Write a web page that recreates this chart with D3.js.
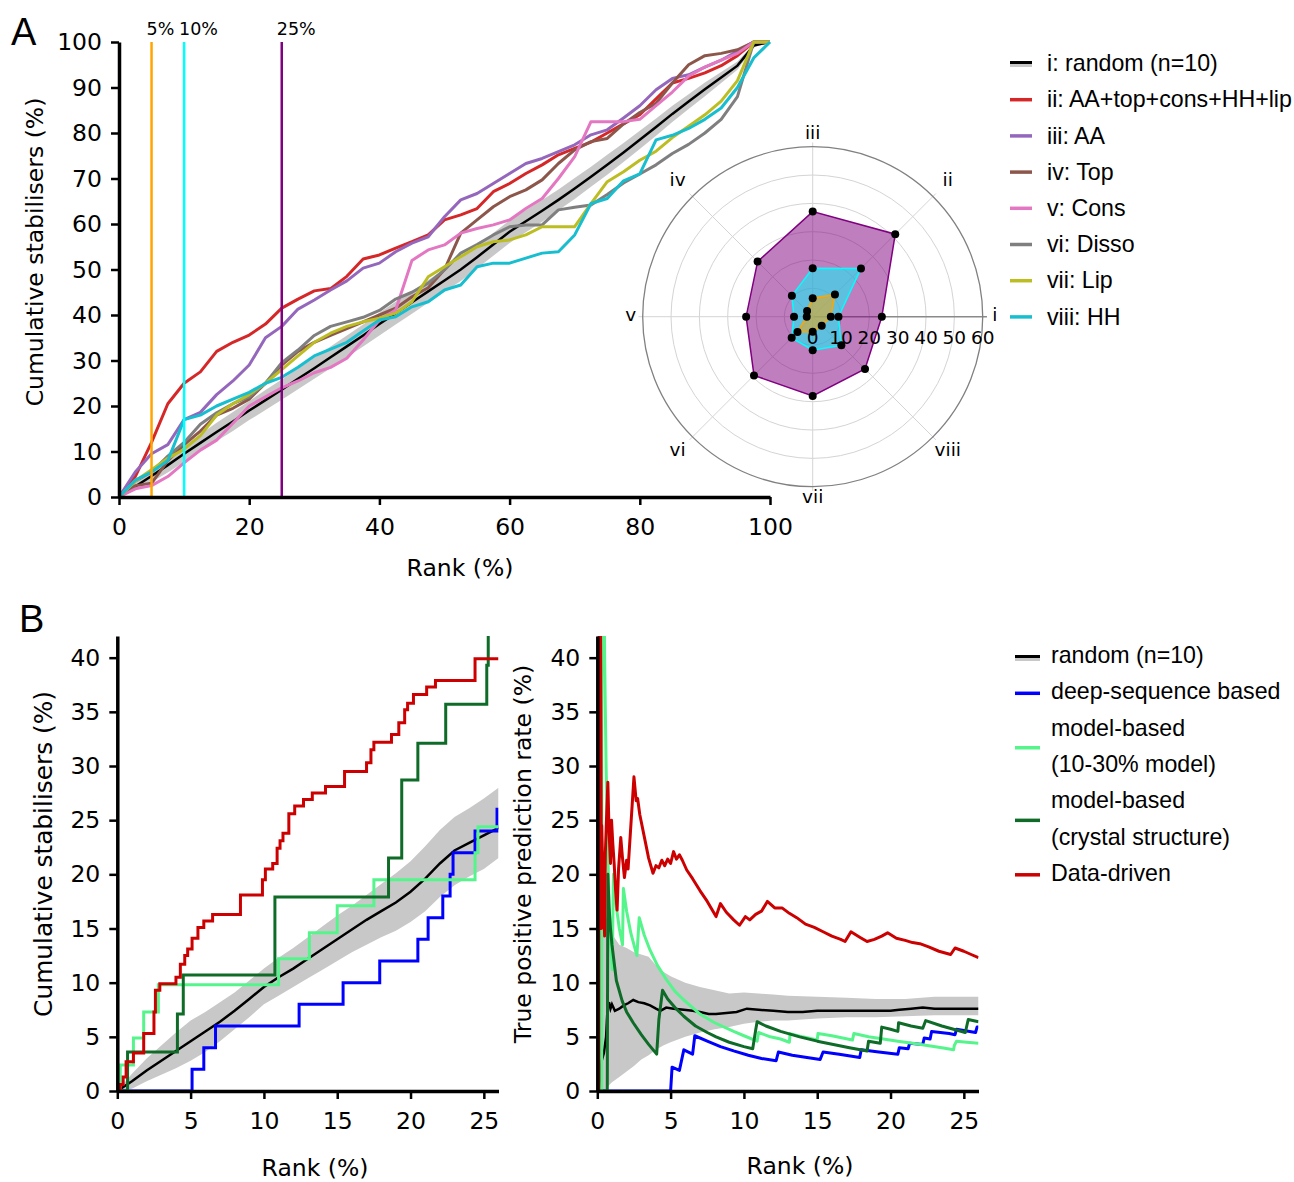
<!DOCTYPE html>
<html>
<head>
<meta charset="utf-8">
<script src="https://cdn.jsdelivr.net/npm/d3@7"></script>
<style>
  body { margin: 0; background: #fff; }
</style>
</head>
<body>
<svg id="fig" width="1294" height="1182" font-family="DejaVu Sans, sans-serif"></svg>
<script>
// ---------- panel A: cumulative stabilisers, every 2.5 % of rank ----------
const RANKS_A = [0,2.5,5,7.5,10,12.5,15,17.5,20,22.5,25,27.5,30,32.5,35,37.5,40,42.5,45,47.5,50,
                 52.5,55,57.5,60,62.5,65,67.5,70,72.5,75,77.5,80,82.5,85,87.5,90,92.5,95,97.5,100];

const RANDOM_A    = [0,2.3,4.6,7,9.5,11.9,14.3,16.6,19,21.3,23.6,26,28.3,30.7,33.1,35.5,38,40.4,42.8,45.2,47.6,
                     50,52.7,55.5,58.3,60.6,62.9,65.3,67.8,70.4,73,75.7,78.5,81.3,84.2,86.9,89.6,92.2,94.8,99.2,100];
const RANDOM_A_LO = [0,1.5,3.3,5.4,7.7,10.0,12.3,14.5,16.9,19.1,21.4,23.7,26.0,28.3,30.7,33.1,35.5,37.9,40.3,42.7,45.1,
                     47.5,50.2,53.0,55.8,58.2,60.5,63.0,65.5,68.2,70.8,73.6,76.5,79.4,82.4,85.3,88.1,91.0,93.9,98.8,100];
const RANDOM_A_HI = [0,3.1,5.9,8.6,11.3,13.8,16.3,18.7,21.1,23.5,25.8,28.3,30.6,33.1,35.5,37.9,40.5,42.9,45.3,47.7,50.1,
                     52.5,55.2,58.0,60.8,63.0,65.3,67.6,70.1,72.6,75.2,77.8,80.5,83.2,86.0,88.5,91.1,93.4,95.7,99.6,100];

const COMBINED = [0,4.5,12,20.5,25,27.5,32,34,35.6,38,41.5,43.5,45.3,45.8,48.5,52.3,53.2,54.7,56.1,57.6,60.9,
                  62,63.4,67.1,68.9,71.1,73,75.2,76.6,78,80,82,84,87.5,91,92,93.2,94.8,97,100,100];
const AA    = [0,5.5,9.5,11.5,17,18.6,22.5,25.5,29,35,37.5,41.3,43.3,45.5,47.5,50.3,51.4,53.9,55.8,57.2,61.6,
               65.3,66.7,68.9,71.1,73.3,74.4,75.9,77.4,79.6,80.7,83.3,86,89.5,92,92.8,94.5,96,98,100,100];
const TOP   = [0,2.5,3,8,11.5,14.5,18,19.5,21.5,25,29,32,34,35.5,37,38.5,40,41.5,44,46,50,
               58,60.9,63.8,66,67.5,69.7,73.3,76.3,78.1,78.8,82,84.5,86.5,91,95,97,97.5,98.3,100,100];
const CONS  = [0,1.8,2.5,4.5,7.5,10.3,12.5,16.2,20,22,24,25.5,27.3,28.5,30.5,34.5,38.9,41.1,52,54.3,55.4,
               58,59,59.8,60.9,63.4,65.6,70,74.8,82.5,82.5,82.5,83,86,89,92.5,94.5,96,97.5,100,100];
const DISSO = [0,3.5,5.5,9,12,16,18.5,20.5,22,25,29.5,32.3,35.5,37.5,38.5,39.5,41,43.5,45,47,49.9,
               53.6,55.5,57.6,59.4,59.8,59.8,63.1,63.7,64.2,66.5,69,71,73,75.5,77.5,80,83,88,100,100];
const LIP   = [0,3.5,6,8.5,10.5,13.5,18,20.5,22.5,25,28,31,34,36,37.5,38.5,39.3,40.4,42.9,48.4,50.6,
               52.8,55,56.1,56.5,57.6,59.4,59.4,59.4,64.5,69.3,71.5,74,76,79,81.5,84,87,91.5,100,100];
const HH    = [0,3.7,5.5,8,17,18,20,21.5,23,25,26.3,28.5,31,32.5,34,36.5,38.9,39.6,41.8,42.9,45.5,
               46.6,50.6,51.4,51.4,52.5,53.6,53.9,57.6,64.5,65.6,69.5,71,78.5,79.5,81,83,85.5,90,96.5,100];

const LEGEND_A = ['i: random (n=10)','ii: AA+top+cons+HH+lip','iii: AA','iv: Top','v: Cons','vi: Disso','vii: Lip','viii: HH'];
const COLORS_A = ['#000000','#d62728','#9467bd','#8c564b','#e377c2','#7f7f7f','#bcbd22','#17becf'];
const SERIES_A = [COMBINED, AA, TOP, CONS, DISSO, LIP, HH];

const THRESHOLDS = [5, 10, 25];
const THRESH_LABELS = ['5%', '10%', '25%'];
const THRESH_COLORS = ['#ffa500', '#00ffff', '#800080'];

// radar: share of stabilisers found at the 5 / 10 / 25 % cut-offs
const RADAR_AXES = ['i','ii','iii','iv','v','vi','vii','viii'];
const RADAR_TICKS = [0,10,20,30,40,50,60];
const RADAR_25 = [24.4, 41.2, 37.1, 27.5, 23.5, 29.3, 28.0, 26.1];
const RADAR_10 = [9.1, 24.1, 17.1, 10.4, 6.6, 10.5, 11.8, 14.3];
const RADAR_5  = [6.4, 11.1, 6.5, 2.8, 2.1, 7.6, 5.3, 4.5];

// ---------- panel B ----------
const RANKS_B = [0,1,2,3,4,5,6,7,8,9,10,11,12,13,14,15,16,17,18,19,20,21,22,23,24,25,26];
const RANDOM_B    = [0,0.9,1.9,2.8,3.7,4.6,5.5,6.4,7.4,8.5,9.6,10.5,11.3,12.2,13.1,14.0,14.9,15.8,16.6,17.4,18.4,19.6,21.0,22.2,22.9,23.6,24.3];
const RANDOM_B_LO = [0,0.2,0.9,1.5,2.1,2.8,3.6,4.6,5.7,6.8,8.0,8.8,9.6,10.4,11.2,12.0,12.8,13.5,14.2,14.8,15.6,16.6,17.9,19.0,19.8,20.5,21.5];
const RANDOM_B_HI = [0,1.6,3.0,4.2,5.4,6.5,7.3,8.2,9.1,10.2,11.3,12.3,13.2,14.2,15.2,16.2,17.1,18.1,19.1,20.1,21.2,22.6,24.1,25.3,26.1,27.0,28.0];

// cumulative stabilisers, [rank, %] at each step
const DEEPSEQ_CUM = [[0,0],[5.1,2],[5.9,4],[6.7,6],[12.4,8],[15.4,10],[17.9,12],[20.5,14],[21.2,16],[22.2,18],
                     [22.7,20],[22.9,22],[24.4,24],[25.9,26],[26,26]];
const MODEL_CUM   = [[0,0],[0.2,2.4],[1.1,4.9],[1.8,7.3],[2.8,9.8],[11.0,12.2],[13.1,14.6],[15.0,17.1],[17.5,19.5],
                     [24.4,22.0],[24.6,24.4],[26,24.4]];
const CRYSTAL_CUM = [[0,0],[0.7,3.6],[4.1,7.1],[4.5,10.7],[10.75,17.9],[18.5,21.5],[19.4,28.7],[20.5,32.1],
                     [22.4,35.7],[25.2,39.3],[25.3,42.9],[26,42.9]];
const DATA_CUM    = [[0,0],[0.2,0.6],[0.4,1.3],[0.6,2.7],[1.1,3.5],[1.8,5.3],[2.5,7.3],[2.6,9.3],[2.9,9.9],[4.0,10.5],
                     [4.3,11.7],[4.6,12.5],[4.8,13.1],[5.1,14.1],[5.5,15.1],[5.9,15.7],[6.5,16.3],[8.4,18.1],[9.9,19.5],
                     [10.1,20.5],[10.6,21.0],[10.9,22.4],[11.1,23.1],[11.3,23.8],[11.7,25.6],[12.1,26.3],[12.7,26.9],
                     [13.3,27.5],[14.2,28.1],[15.5,29.5],[17.0,30.3],[17.3,31.5],[17.5,32.2],[18.7,32.9],[19.2,34.0],
                     [19.6,35.2],[19.8,35.8],[20.2,36.6],[21.1,37.3],[21.7,37.9],[24.4,39.9],[26,39.9]];

// true positive prediction rate, [rank, %]
const RANDOM_TPR = [[0,0],[0.1,0],[0.3,2.8],[0.45,3.5],[0.6,5],[0.7,7.7],[0.8,8.2],[0.9,7.6],[1.0,8.0],[1.2,7.4],
                    [1.5,7.6],[1.8,7.9],[2.1,8.1],[2.45,8.4],[2.8,8.2],[3.2,8.1],[3.6,7.9],[4.0,7.6],[4.3,7.4],[4.7,7.7],
                    [5.2,7.6],[5.9,7.5],[6.5,7.4],[7.0,7.3],[7.6,7.1],[8.1,7.1],[8.8,7.2],[9.5,7.3],[10.2,7.6],[11.0,7.5],
                    [12.0,7.4],[13.0,7.3],[14.0,7.3],[15.0,7.4],[17.0,7.4],[19.0,7.4],[20.0,7.4],[20.6,7.5],[21.4,7.6],
                    [22.2,7.7],[23.0,7.6],[24.0,7.6],[26,7.6]];
const RANDOM_TPR_BAND = [[0.1,0,0],[0.2,0,14],[0.35,0,18],[0.5,0,17],[0.7,0.4,15.5],[1.0,0.8,14.5],[1.5,1.3,13.5],
                         [2.0,1.8,13.2],[2.5,2.3,12.8],[3.0,2.9,12.6],[3.5,3.3,12.4],[4.0,3.8,11.6],[4.5,4.2,11.0],
                         [5.0,4.5,10.6],[6.0,5.0,10.0],[7.0,5.4,9.6],[8.0,5.7,9.3],[9.0,5.9,9.0],[10.0,6.2,9.1],
                         [11.0,6.4,9.0],[12.0,6.5,8.9],[13.0,6.5,8.8],[15.0,6.7,8.7],[17.0,6.8,8.6],[19.0,6.8,8.5],
                         [21.0,6.9,8.5],[23.0,7.0,8.7],[26.0,7.0,8.7]];
const DEEPSEQ_TPR = [[0,0],[5.0,0],[5.1,2.2],[5.6,1.9],[5.9,3.8],[6.5,3.4],[6.65,5.1],[7.5,4.6],[8.4,4.1],[9.3,3.7],
                     [10.3,3.3],[11.2,3.0],[12.2,2.8],[12.35,3.6],[13.3,3.3],[14.3,3.1],[15.2,2.9],[15.4,3.6],[16.5,3.4],
                     [17.9,3.1],[18.0,3.8],[19.2,3.6],[20.5,3.4],[20.6,4.0],[21.2,3.9],[21.3,4.4],[22.2,4.3],[22.3,4.9],
                     [22.7,4.8],[22.8,5.5],[24.0,5.3],[24.4,5.2],[24.5,5.7],[25.8,5.4],[25.9,5.9],[26,5.9]];
const MODEL_TPR   = [[0,0],[0.3,0],[0.32,100],[0.4,60],[0.5,40],[0.6,30],[0.7,23],[0.8,17.5],[0.9,14],[1.02,11.2],
                     [1.1,20],[1.3,17],[1.5,15],[1.72,13.5],[1.78,18.7],[2.0,16.6],[2.3,14.5],[2.7,12.5],[2.86,16],
                     [3.2,14.4],[3.6,13],[4.1,11.6],[4.7,10.3],[5.3,9.2],[5.9,8.4],[6.5,7.7],[7.0,7.1],[8.0,6.3],
                     [9.3,5.5],[10.0,5.1],[10.9,4.6],[11.0,5.4],[11.8,5.0],[12.5,4.8],[13.1,4.5],[13.15,5.3],[14.0,5.0],
                     [15.0,4.7],[15.05,5.3],[16.0,5.1],[17.4,4.7],[17.5,5.3],[18.5,5.0],[19.5,4.8],[20.5,4.6],[21.5,4.4],
                     [22.5,4.2],[23.5,4.0],[24.3,3.8],[24.35,4.2],[24.5,4.6],[25.2,4.5],[26,4.4]];
const CRYSTAL_TPR = [[0,0],[0.68,0],[0.72,20],[0.8,17],[0.9,15],[1.0,13.5],[1.3,10.2],[1.7,8.3],[2.0,7.3],[2.45,6.3],
                     [3.0,5.2],[3.5,4.3],[4.05,3.4],[4.2,6.6],[4.45,9.3],[4.8,8.5],[5.3,7.7],[5.9,6.9],[6.7,6.0],
                     [7.5,5.4],[8.1,5.0],[9.0,4.5],[10.0,4.1],[10.6,3.9],[10.8,5.6],[10.9,6.4],[11.5,6.0],[12.5,5.5],
                     [13.8,5.0],[15.0,4.6],[16.1,4.3],[17.2,4.0],[18.4,3.7],[18.5,4.6],[19.3,4.4],[19.4,5.9],[20.0,5.7],
                     [20.5,5.5],[20.55,6.3],[21.4,6.0],[22.2,5.8],[22.4,6.5],[23.5,6.0],[24.3,5.7],[25.1,5.4],[25.3,6.6],[26,6.4]];
const DATA_TPR    = [[0,0],[0.1,0],[0.12,100],[0.2,50],[0.25,33],[0.28,15],[0.3,24.5],[0.38,20],[0.45,16.5],[0.5,14.3],
                     [0.55,22],[0.65,26],[0.72,28.5],[0.8,24],[0.9,21],[0.97,25],[1.05,23],[1.15,21],[1.25,18.5],
                     [1.35,16.7],[1.45,20.5],[1.6,23.4],[1.72,21.5],[1.85,19.7],[2.0,21.3],[2.1,20.5],[2.5,29.0],
                     [2.65,26.8],[2.75,27],[2.9,25.5],[3.2,23.5],[3.5,21.5],[3.8,20.1],[4.0,20.8],[4.2,20.6],[4.4,21.3],
                     [4.6,20.8],[4.8,21.4],[5.0,21],[5.2,22.1],[5.4,21.4],[5.6,21.8],[5.8,21.3],[6.1,20.4],[6.5,19.6],
                     [7.0,18.5],[7.5,17.5],[8.1,16.1],[8.4,17.3],[8.8,16.5],[9.3,15.8],[9.7,15.3],[10.1,16.1],[10.4,15.8],
                     [10.8,16.3],[11.2,16.6],[11.6,17.5],[12.1,16.9],[12.6,16.9],[13.1,16.4],[13.6,16],[14.2,15.4],
                     [14.8,15.1],[15.4,14.7],[16.0,14.3],[16.6,14],[16.9,13.8],[17.3,14.7],[17.9,14.2],[18.4,13.8],
                     [18.9,14],[19.4,14.3],[19.8,14.6],[20.4,14.1],[21.0,13.9],[21.5,13.7],[22.0,13.6],[22.6,13.3],
                     [23.3,12.9],[24.1,12.6],[24.4,13.2],[25.0,12.9],[25.5,12.6],[26,12.3]];

const LEGEND_B = [['random (n=10)'],['deep-sequence based'],['model-based','(10-30% model)'],
                  ['model-based','(crystal structure)'],['Data-driven']];
const COLORS_B = ['#000000','#0000ff','#55f58c','#0f6b28','#cc0000'];
const BAND_GREY = '#c8c8c8';

const TICK_FONT = 23.5;
const LABEL_FONT = 23.5;
const LEGEND_FONT = 23.2;
const ARIAL = '"Liberation Sans", Arial, sans-serif';

const svg = d3.select('#fig');
svg.append('rect').attr('width', 1294).attr('height', 1182).attr('fill', '#fff');

function styleAxis(g) {
    g.attr('font-family', 'DejaVu Sans, sans-serif').attr('font-size', TICK_FONT);
    g.selectAll('.domain').attr('stroke', '#000').attr('stroke-width', 3.5);
    g.selectAll('.tick line').attr('stroke', '#000').attr('stroke-width', 2.5);
    g.selectAll('.tick text').attr('fill', '#000');
}

function drawAxes(x, y, xTicks, yTicks) {
    const gx = svg.append('g').attr('transform', `translate(0,${y.range()[0]})`)
        .call(d3.axisBottom(x).tickValues(xTicks).tickSize(8).tickSizeOuter(0).tickPadding(13));
    styleAxis(gx);
    const gy = svg.append('g').attr('transform', `translate(${x.range()[0]},0)`)
        .call(d3.axisLeft(y).tickValues(yTicks).tickSize(8).tickSizeOuter(0).tickPadding(9));
    styleAxis(gy);
}

function axisLabel(text, x, y, rotate, size) {
    svg.append('text')
        .attr('transform', `translate(${x},${y})` + (rotate ? ' rotate(-90)' : ''))
        .attr('text-anchor', 'middle').attr('dy', '0.35em')
        .attr('font-size', size || LABEL_FONT).text(text);
}

function panelLetter(text, x, y) {
    svg.append('text').attr('x', x).attr('y', y)
        .attr('font-family', ARIAL).attr('font-size', 38).text(text);
}

// ================= panel A =================
const xA = d3.scaleLinear().domain([0, 100]).range([119, 770]);
const yA = d3.scaleLinear().domain([0, 100]).range([497, 42]);

const bandA = d3.area().x((d, i) => xA(RANKS_A[i])).y0(d => yA(d[0])).y1(d => yA(d[1]));
svg.append('path').datum(RANDOM_A_LO.map((v, i) => [v, RANDOM_A_HI[i]]))
    .attr('d', bandA).attr('fill', BAND_GREY);

const lineA = d3.line().x((d, i) => xA(RANKS_A[i])).y(d => yA(d));
svg.append('path').datum(RANDOM_A).attr('d', lineA)
    .attr('fill', 'none').attr('stroke', '#000').attr('stroke-width', 2.5);

SERIES_A.forEach((s, k) => {
    svg.append('path').datum(s).attr('d', lineA)
        .attr('fill', 'none').attr('stroke', COLORS_A[k + 1]).attr('stroke-width', 3)
        .attr('stroke-linejoin', 'round');
});

THRESHOLDS.forEach((t, k) => {
    svg.append('line').attr('x1', xA(t)).attr('x2', xA(t)).attr('y1', yA(100)).attr('y2', yA(0))
        .attr('stroke', THRESH_COLORS[k]).attr('stroke-width', 2.5);
    svg.append('text').attr('x', xA(t) - 5).attr('y', 35)
        .attr('font-size', 17.5).text(THRESH_LABELS[k]);
});

drawAxes(xA, yA, [0, 20, 40, 60, 80, 100], d3.range(0, 101, 10));
axisLabel('Cumulative stabilisers (%)', 35, 252, true);
axisLabel('Rank (%)', 460, 568, false);
panelLetter('A', 11, 45);

// radar inset
const rc = { x: 812.7, y: 316.7 };
const rR = d3.scaleLinear().domain([0, 60]).range([0, 170]);
const ang = k => k * Math.PI / 4;
const polar = (k, v) => [rc.x + rR(v) * Math.cos(ang(k)), rc.y - rR(v) * Math.sin(ang(k))];

const radar = svg.append('g');
radar.append('circle').attr('cx', rc.x).attr('cy', rc.y).attr('r', rR(60)).attr('fill', '#fff');
RADAR_TICKS.slice(1, -1).forEach(t => {
    radar.append('circle').attr('cx', rc.x).attr('cy', rc.y).attr('r', rR(t))
        .attr('fill', 'none').attr('stroke', '#d4d4d4').attr('stroke-width', 1);
});
RADAR_AXES.forEach((a, k) => {
    const [x2, y2] = polar(k, 61.5);
    radar.append('line').attr('x1', rc.x).attr('y1', rc.y).attr('x2', x2).attr('y2', y2)
        .attr('stroke', k === 0 ? '#8a8a8a' : '#d4d4d4').attr('stroke-width', k === 0 ? 1.4 : 1);
    const lr = 182 + 9 * Math.abs(Math.sin(2 * ang(k)));
    radar.append('text')
        .attr('x', rc.x + lr * Math.cos(ang(k))).attr('y', rc.y - lr * Math.sin(ang(k)) - 2)
        .attr('text-anchor', 'middle').attr('dy', '0.35em').attr('font-size', 18.5).text(a);
});
radar.append('circle').attr('cx', rc.x).attr('cy', rc.y).attr('r', rR(60))
    .attr('fill', 'none').attr('stroke', '#808080').attr('stroke-width', 1.3);

const radarLine = d3.line().x((d, k) => polar(k, d)[0]).y((d, k) => polar(k, d)[1]).curve(d3.curveLinearClosed);
[[RADAR_25, '#800080'], [RADAR_10, '#00ffff'], [RADAR_5, '#ffa500']].forEach(([vals, c]) => {
    radar.append('path').datum(vals).attr('d', radarLine)
        .attr('fill', c).attr('fill-opacity', 0.5).attr('stroke', c).attr('stroke-width', 1.5);
});
[RADAR_25, RADAR_10, RADAR_5].forEach(vals => {
    vals.forEach((v, k) => {
        const [px, py] = polar(k, v);
        radar.append('circle').attr('cx', px).attr('cy', py).attr('r', 4).attr('fill', '#000');
    });
});
RADAR_TICKS.forEach(t => {
    radar.append('text').attr('x', rc.x + rR(t)).attr('y', rc.y + 21)
        .attr('text-anchor', 'middle').attr('dy', '0.35em').attr('font-size', 18.5).text(t);
});

// legend A
const legA = svg.append('g').attr('font-family', ARIAL).attr('font-size', LEGEND_FONT);
LEGEND_A.forEach((lab, i) => {
    const cy = 63 + i * 36.2;
    if (i === 0) {
        legA.append('rect').attr('x', 1010).attr('y', cy - 1).attr('width', 22).attr('height', 5).attr('fill', BAND_GREY);
        legA.append('line').attr('x1', 1010).attr('x2', 1032).attr('y1', cy - 0.5).attr('y2', cy - 0.5)
            .attr('stroke', '#000').attr('stroke-width', 3);
    } else {
        legA.append('line').attr('x1', 1010).attr('x2', 1032).attr('y1', cy + 0.5).attr('y2', cy + 0.5)
            .attr('stroke', COLORS_A[i]).attr('stroke-width', 3.5);
    }
    legA.append('text').attr('x', 1047).attr('y', cy).attr('dy', '0.35em').text(lab);
});

// ================= panel B =================
const yB = d3.scaleLinear().domain([0, 42]).range([1091, 636]);
const xBL = d3.scaleLinear().domain([0, 26]).range([117.3, 498.5]);
const xBR = d3.scaleLinear().domain([0, 26]).range([597.3, 978.5]);

function clipFor(id, x) {
    svg.append('clipPath').attr('id', id).append('rect')
        .attr('x', x.range()[0]).attr('y', yB.range()[1])
        .attr('width', x.range()[1] - x.range()[0]).attr('height', yB.range()[0] - yB.range()[1] + 2);
    return svg.append('g').attr('clip-path', `url(#${id})`);
}

// left: cumulative stabilisers
const gL = clipFor('clipL', xBL);
gL.append('path').datum(RANDOM_B_LO.map((v, i) => [RANKS_B[i], v, RANDOM_B_HI[i]]))
    .attr('d', d3.area().x(d => xBL(d[0])).y0(d => yB(d[1])).y1(d => yB(d[2])))
    .attr('fill', BAND_GREY);
gL.append('path').datum(RANDOM_B.map((v, i) => [RANKS_B[i], v]))
    .attr('d', d3.line().x(d => xBL(d[0])).y(d => yB(d[1])))
    .attr('fill', 'none').attr('stroke', '#000').attr('stroke-width', 2.5);
const stepB = d3.line().x(d => xBL(d[0])).y(d => yB(d[1])).curve(d3.curveStepAfter);
[DEEPSEQ_CUM, MODEL_CUM, CRYSTAL_CUM, DATA_CUM].forEach((s, k) => {
    gL.append('path').datum(s).attr('d', stepB)
        .attr('fill', 'none').attr('stroke', COLORS_B[k + 1]).attr('stroke-width', 3);
});
drawAxes(xBL, yB, [0, 5, 10, 15, 20, 25], d3.range(0, 41, 5));
axisLabel('Cumulative stabilisers (%)', 43, 854, true, 24.8);
axisLabel('Rank (%)', 315, 1168, false);
panelLetter('B', 19, 632);

// right: true positive prediction rate
const gR = clipFor('clipR', xBR);
gR.append('path').datum(RANDOM_TPR_BAND)
    .attr('d', d3.area().x(d => xBR(d[0])).y0(d => yB(d[1])).y1(d => yB(d[2])))
    .attr('fill', BAND_GREY);
const lineR = d3.line().x(d => xBR(d[0])).y(d => yB(d[1]));
gR.append('path').datum(RANDOM_TPR).attr('d', lineR)
    .attr('fill', 'none').attr('stroke', '#000').attr('stroke-width', 2.5);
[DEEPSEQ_TPR, MODEL_TPR, CRYSTAL_TPR, DATA_TPR].forEach((s, k) => {
    gR.append('path').datum(s).attr('d', lineR)
        .attr('fill', 'none').attr('stroke', COLORS_B[k + 1]).attr('stroke-width', 3)
        .attr('stroke-linejoin', 'round');
});
drawAxes(xBR, yB, [0, 5, 10, 15, 20, 25], d3.range(0, 41, 5));
axisLabel('True positive prediction rate (%)', 523, 854, true);
axisLabel('Rank (%)', 800, 1166, false);

// legend B
const legB = svg.append('g').attr('font-family', ARIAL).attr('font-size', LEGEND_FONT);
let row = 0;
LEGEND_B.forEach((lines, i) => {
    const ys = lines.map((_, j) => 655 + (row + j) * 36.3);
    const cy = d3.mean(ys);
    if (i === 0) {
        legB.append('rect').attr('x', 1015).attr('y', cy + 1).attr('width', 25).attr('height', 5).attr('fill', BAND_GREY);
        legB.append('line').attr('x1', 1015).attr('x2', 1040).attr('y1', cy + 1.5).attr('y2', cy + 1.5)
            .attr('stroke', '#000').attr('stroke-width', 3);
    } else {
        legB.append('line').attr('x1', 1015).attr('x2', 1040).attr('y1', cy + 2).attr('y2', cy + 2)
            .attr('stroke', COLORS_B[i]).attr('stroke-width', 3.5);
    }
    lines.forEach((t, j) => {
        legB.append('text').attr('x', 1051).attr('y', ys[j]).attr('dy', '0.35em').text(t);
    });
    row += lines.length;
});
</script>
</body>
</html>
